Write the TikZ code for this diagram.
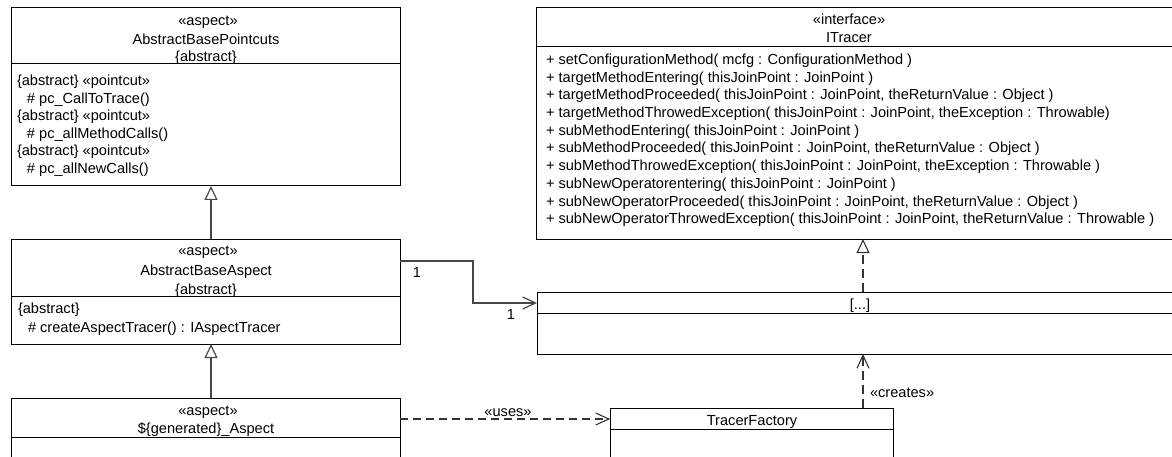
\documentclass[tikz,border=0pt]{standalone}
\usepackage{fontspec}
\setmainfont{Liberation Sans}
\usetikzlibrary{arrows.meta}

\begin{document}
\begin{tikzpicture}[x=1pt,y=-1pt,
  every node/.style={inner sep=0pt, outer sep=0pt},
  umlbox/.style={draw=black, line width=1pt, fill=white, anchor=north west},
  sepline/.style={draw=black, line width=1pt},
  txt/.style={font=\fontsize{14.6}{17.5}\selectfont, anchor=base},
  ltxt/.style={txt, anchor=base west},
  conn/.style={draw=black!72, line width=1.2pt},
  dep/.style={draw=black!80, line width=1.1pt, dash pattern=on 8pt off 5pt},
  gentip/.style={-{Triangle[open, length=14pt, width=13pt, fill=white]}},
  opentip/.style={-{Straight Barb[length=13pt, width=12pt]}},
]
\path[use as bounding box] (0,0) rectangle (1172,457);
\clip (0,0) rectangle (1172,457);

% ---- class boxes ----
\node[umlbox, minimum width=389pt, minimum height=178pt] (pc)  at (11,8)   {};
\node[umlbox, minimum width=389pt, minimum height=105pt] (gba) at (11,239) {};
\node[umlbox, minimum width=389pt, minimum height=90pt]  (gen) at (11,398) {};
\node[umlbox, minimum width=654pt, minimum height=231pt] (itr) at (536,8)  {};
\node[umlbox, minimum width=653pt, minimum height=62pt]  (mid) at (537,292) {};
\node[umlbox, minimum width=283pt, minimum height=80pt]  (tf)  at (610,408) {};

% compartment separators
\draw[sepline] (11,64)   -- (400,64);
\draw[sepline] (11,296)  -- (400,296);
\draw[sepline] (11,437)  -- (400,437);
\draw[sepline] (536,47)  -- (1190,47);
\draw[sepline] (537,313) -- (1190,313);
\draw[sepline] (610,429) -- (893,429);

% ---- AbstractBasePointcuts ----
\node[txt] (pcst)  at (208,25.5) {«aspect»};
\node[txt] (pcnm)  at (206,44.5) {AbstractBasePointcuts};
\node[txt] (pcab)  at (206,61.5) {\{abstract\}};
\node[ltxt] (pc1) at (17,86)    {\{abstract\} «pointcut»};
\node[ltxt] (pc2) at (27,103.5) {\# pc\_CallToTrace()};
\node[ltxt] (pc3) at (17,121)   {\{abstract\} «pointcut»};
\node[ltxt] (pc4) at (27,138.5) {\# pc\_allMethodCalls()};
\node[ltxt] (pc5) at (17,156)   {\{abstract\} «pointcut»};
\node[ltxt] (pc6) at (27,173.5) {\# pc\_allNewCalls()};

% ---- AbstractBaseAspect ----
\node[txt] (gbast) at (208,255.5) {«aspect»};
\node[txt] (gbanm) at (206,275) {AbstractBaseAspect};
\node[txt] (gbaab) at (206,294) {\{abstract\}};
\node[ltxt] (gba1) at (18,313.5) {\{abstract\}};
\node[ltxt] (gba2) at (28,332) {\# createAspectTracer() : IAspectTracer};

% ---- generated aspect ----
\node[txt] (genst) at (208,415) {«aspect»};
\node[txt] (gennm) at (206,433) {\$\{generated\}\_Aspect};

% ---- ITracer ----
\node[txt] (itrst) at (849,25) {«interface»};
\node[txt] (itrnm) at (849,43) {ITracer};
\foreach \t [count=\i from 0] in {
  {+ setConfigurationMethod( mcfg : ConfigurationMethod )},
  {+ targetMethodEntering( thisJoinPoint : JoinPoint )},
  {+ targetMethodProceeded( thisJoinPoint : JoinPoint, theReturnValue : Object )},
  {+ targetMethodThrowedException( thisJoinPoint : JoinPoint, theException : Throwable)},
  {+ subMethodEntering( thisJoinPoint : JoinPoint )},
  {+ subMethodProceeded( thisJoinPoint : JoinPoint, theReturnValue : Object )},
  {+ subMethodThrowedException( thisJoinPoint : JoinPoint, theException : Throwable )},
  {+ subNewOperatorentering( thisJoinPoint : JoinPoint )},
  {+ subNewOperatorProceeded( thisJoinPoint : JoinPoint, theReturnValue : Object )},
  {+ subNewOperatorThrowedException( thisJoinPoint : JoinPoint, theReturnValue : Throwable )}}
  \node[ltxt] (itrop\i) at (546,64.5+17.7*\i) {\t};

% ---- tracer implementation and factory ----
\node[txt] (midnm) at (860,309) {[...]};
\node[txt] (tfnm)  at (752,425.5) {TracerFactory};

% ---- connectors ----
\coordinate (gx) at (211,0);
\coordinate (rx) at (863,0);
\coordinate (ay1) at (0,261);
\coordinate (ay2) at (0,303);
\coordinate (ax) at (473,0);
\coordinate (uy) at (0,419);

\draw[conn, gentip] (gba.north -| gx) -- (pc.south -| gx);
\draw[conn, gentip] (gen.north -| gx) -- (gba.south -| gx);
\draw[conn, opentip] (gba.east |- ay1) -- (ax |- ay1) -- (ax |- ay2) -- (mid.west |- ay2);
\draw[dep, opentip] (gen.east |- uy) -- (tf.west |- uy);
\draw[dep, opentip, dash pattern=on 9pt off 5pt] (tf.north -| rx) -- (mid.south -| rx);
\draw[dep, gentip, dash pattern=on 9pt off 5pt] (mid.north -| rx) -- (itr.south -| rx);

% connector labels
\node[txt] (m1) at (417,277) {1};
\node[txt] (m2) at (511,319) {1};
\node[txt] (uses) at (508,416.5) {«uses»};
\node[ltxt] (creates) at (870,397) {«creates»};
\end{tikzpicture}
\end{document}
